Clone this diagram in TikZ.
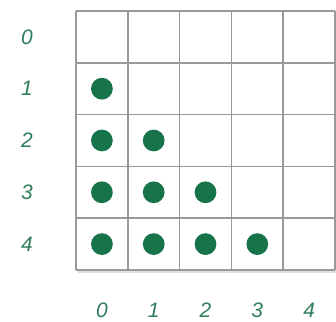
\documentclass[tikz,border=0pt]{standalone}
\usepackage{fontspec}
\setmainfont{Liberation Sans}
\usetikzlibrary{shadows}
\definecolor{dotgreen}{HTML}{17734A}
\definecolor{numgreen}{HTML}{2F7D5A}
\tikzset{
  num/.style={text=numgreen, inner sep=0pt, font=\itshape\fontsize{11.5}{11.5}\selectfont},
  dot/.style={fill=dotgreen}
}
\begin{document}
\begin{tikzpicture}
    \useasboundingbox (-1.467, -0.985) rectangle (5.019, 5.212);

    % Bóng và lưới 5x5
    \fill[white, drop shadow={shadow xshift=0.04, shadow yshift=-0.06, opacity=0.25}] (0, 0) rectangle (5, 5);
    \draw[gray!80, line width=0.8pt] (0, 0) grid (5, 5);

    % Nhãn hàng (bên trái) và nhãn cột (bên dưới)
    \foreach \i in {0,...,4} {
        \node[num] (r\i) at (-0.946, 4.5-\i) {\i};
        \node[num] (c\i) at (\i+0.5, -0.78) {\i};
    }

    % Các chấm: hàng i có i chấm
    \foreach \i in {1,...,4} {
        \pgfmathtruncatemacro{\last}{\i-1}
        \foreach \j in {0,...,\last} {
            \fill[dot] (\j+0.5, 4.5-\i) circle (0.21);
        }
    }

\end{tikzpicture}
\end{document}
